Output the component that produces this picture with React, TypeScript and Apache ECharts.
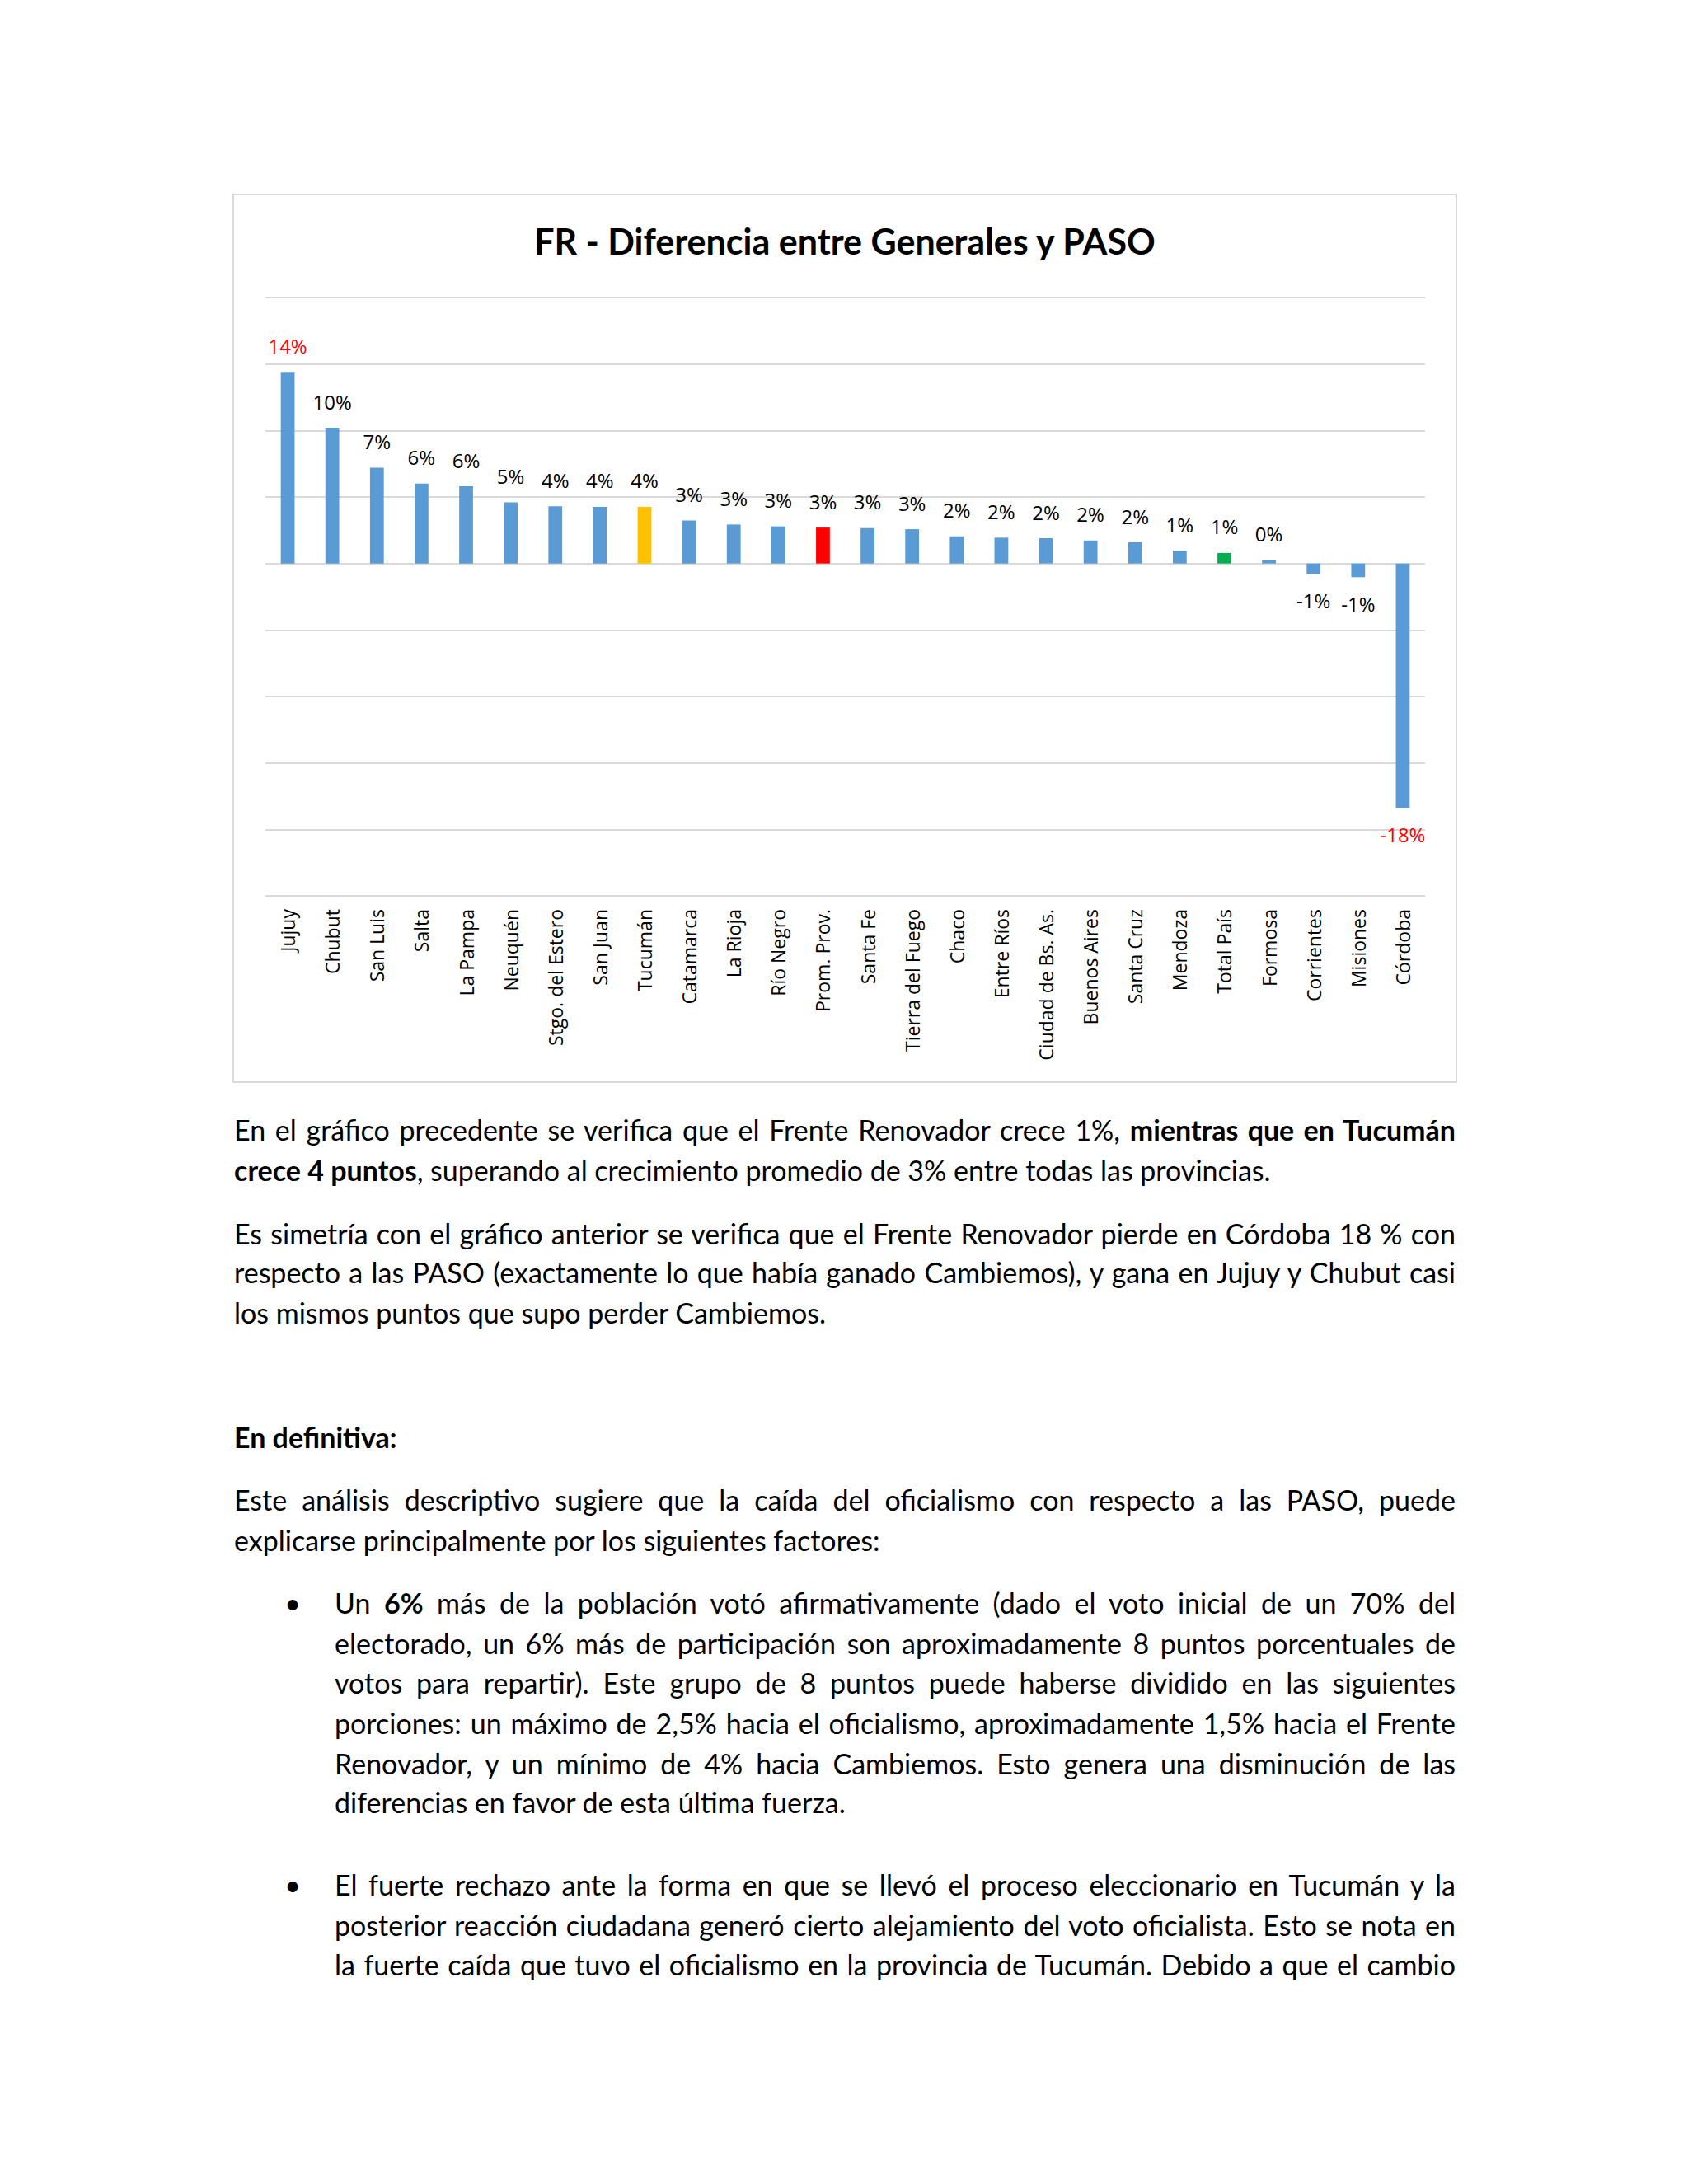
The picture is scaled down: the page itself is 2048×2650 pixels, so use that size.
import React, { useEffect, useRef } from "react";
import * as echarts from "echarts";

// ---------- DATA ----------
const chartTitle = "FR - Diferencia entre Generales y PASO";
const categories = [
  "Jujuy", "Chubut", "San Luis", "Salta", "La Pampa", "Neuquén", "Stgo. del Estero",
  "San Juan", "Tucumán", "Catamarca", "La Rioja", "Río Negro", "Prom. Prov.", "Santa Fe",
  "Tierra del Fuego", "Chaco", "Entre Ríos", "Ciudad de Bs. As.", "Buenos Aires",
  "Santa Cruz", "Mendoza", "Total País", "Formosa", "Corrientes", "Misiones", "Córdoba",
];
const values = [
  14.4, 10.2, 7.2, 6.0, 5.8, 4.6, 4.3, 4.26, 4.26, 3.24, 2.93, 2.79, 2.7, 2.66, 2.58,
  2.04, 1.94, 1.9, 1.73, 1.59, 0.97, 0.79, 0.23, -0.8, -1.03, -18.4,
];
const yMin = -25;
const yMax = 20;
const yInterval = 5;

// ---------- STYLE ----------
const BASE_BAR = "#5B9BD5";
const barColorOverrides: Record<string, string> = {
  "Tucumán": "#FFC000",
  "Prom. Prov.": "#FF0000",
  "Total País": "#00B050",
};
const redLabelCats = ["Jujuy", "Córdoba"];

const BODY_FONT = "Lato, 'Open Sans', sans-serif";
const BODY_SIZE = 34;

function Chart() {
  const ref = useRef<HTMLDivElement>(null);
  useEffect(() => {
    if (!ref.current) return;
    const chart = echarts.init(ref.current, undefined, { renderer: "svg" });
    chart.setOption({
      animation: false,
      backgroundColor: "#FFFFFF",
      title: {
        text: chartTitle,
        left: "center",
        top: 34,
        padding: 0,
        textStyle: { fontFamily: "Lato", fontWeight: "bold", fontSize: 43, color: "#000000" },
      },
      grid: { left: 38, right: 37, top: 124, bottom: 225, containLabel: false },
      xAxis: {
        type: "category",
        data: categories,
        axisLine: { show: false, onZero: false },
        axisTick: { show: false },
        splitLine: { show: false },
        axisLabel: {
          rotate: 90,
          interval: 0,
          margin: 16,
          fontFamily: "Open Sans",
          fontSize: 23,
          color: "#000000",
        },
      },
      yAxis: {
        type: "value",
        min: yMin,
        max: yMax,
        interval: yInterval,
        axisLabel: { show: false },
        axisLine: { show: false },
        axisTick: { show: false },
        splitLine: { show: true, lineStyle: { color: "#D9D9D9", width: 2 } },
      },
      series: [
        {
          type: "bar",
          barWidth: "31%",
          data: categories.map((c, i) => ({
            value: values[i],
            itemStyle: { color: barColorOverrides[c] ?? BASE_BAR },
            label: {
              position: values[i] < 0 ? "bottom" : "top",
              color: redLabelCats.includes(c) ? "#FF0000" : "#000000",
            },
          })),
          label: {
            show: true,
            distance: 20,
            fontFamily: "Open Sans",
            fontSize: 24,
            formatter: (p: any) => Math.round(p.value) + "%",
          },
        },
      ],
    });
    return () => chart.dispose();
  }, []);
  return <div ref={ref} style={{ width: 1482, height: 1075 }} />;
}

type LineProps = { top: number; left: number; width: number; justify?: boolean; children: React.ReactNode };
function Line({ top, left, width, justify, children }: LineProps) {
  return (
    <div
      style={{
        position: "absolute",
        top: top - 24,
        left,
        width,
        height: 48,
        lineHeight: "48px",
        fontFamily: BODY_FONT,
        fontSize: BODY_SIZE,
        color: "#000",
        textAlign: justify ? "justify" : "left",
        textAlignLast: justify ? "justify" : "left",
      } as React.CSSProperties}
    >
      {children}
    </div>
  );
}

function Bullet({ top }: { top: number }) {
  return (
    <div
      style={{
        position: "absolute",
        top: top - 24,
        left: 340,
        width: 30,
        height: 48,
        lineHeight: "48px",
        textAlign: "center",
        fontFamily: BODY_FONT,
        fontSize: BODY_SIZE,
        color: "#000",
      }}
    >
      •
    </div>
  );
}

export default function App() {
  const L = 284;
  const W = 1482;
  const BL = 406;
  const BW = 1766 - 406;
  return (
    <div style={{ position: "absolute", left: 0, top: 0, width: 2048, height: 2650, background: "#FFFFFF", overflow: "hidden" }}>
      <div style={{ position: "absolute", left: 282, top: 235, border: "2px solid #D9D9D9" }}>
        <Chart />
      </div>

      <Line top={1371} left={L} width={W} justify>
        En el gráfico precedente se verifica que el Frente Renovador crece 1%, <b>mientras que en Tucumán</b>
      </Line>
      <Line top={1420} left={L} width={W}>
        <b>crece 4 puntos</b>, superando al crecimiento promedio de 3% entre todas las provincias.
      </Line>

      <Line top={1497} left={L} width={W} justify>
        Es simetría con el gráfico anterior se verifica que el Frente Renovador pierde en Córdoba 18 % con
      </Line>
      <Line top={1544} left={L} width={W} justify>
        respecto a las PASO (exactamente lo que había ganado Cambiemos), y gana en Jujuy y Chubut casi
      </Line>
      <Line top={1593} left={L} width={W}>
        los mismos puntos que supo perder Cambiemos.
      </Line>

      <Line top={1744} left={L} width={W}>
        <b>En definitiva:</b>
      </Line>

      <Line top={1820} left={L} width={W} justify>
        Este análisis descriptivo sugiere que la caída del oficialismo con respecto a las PASO, puede
      </Line>
      <Line top={1869} left={L} width={W}>
        explicarse principalmente por los siguientes factores:
      </Line>

      <Bullet top={1945} />
      <Line top={1945} left={BL} width={BW} justify>
        Un <b>6%</b> más de la población votó afirmativamente (dado el voto inicial de un 70% del
      </Line>
      <Line top={1994} left={BL} width={BW} justify>
        electorado, un 6% más de participación son aproximadamente 8 puntos porcentuales de
      </Line>
      <Line top={2042} left={BL} width={BW} justify>
        votos para repartir). Este grupo de 8 puntos puede haberse dividido en las siguientes
      </Line>
      <Line top={2091} left={BL} width={BW} justify>
        porciones: un máximo de 2,5% hacia el oficialismo, aproximadamente 1,5% hacia el Frente
      </Line>
      <Line top={2140} left={BL} width={BW} justify>
        Renovador, y un mínimo de 4% hacia Cambiemos. Esto genera una disminución de las
      </Line>
      <Line top={2187} left={BL} width={BW}>
        diferencias en favor de esta última fuerza.
      </Line>

      <Bullet top={2287} />
      <Line top={2287} left={BL} width={BW} justify>
        El fuerte rechazo ante la forma en que se llevó el proceso eleccionario en Tucumán y la
      </Line>
      <Line top={2336} left={BL} width={BW} justify>
        posterior reacción ciudadana generó cierto alejamiento del voto oficialista. Esto se nota en
      </Line>
      <Line top={2384} left={BL} width={BW} justify>
        la fuerte caída que tuvo el oficialismo en la provincia de Tucumán. Debido a que el cambio
      </Line>
    </div>
  );
}
